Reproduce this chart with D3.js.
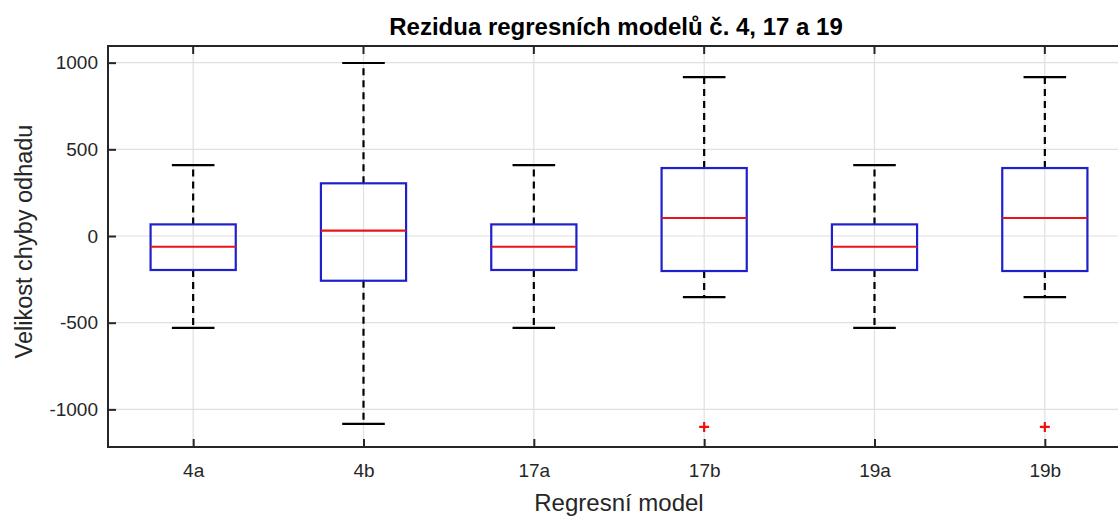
<!DOCTYPE html>
<html>
<head>
<meta charset="utf-8">
<script src="https://cdn.jsdelivr.net/npm/d3@7"></script>
<style>
  body { margin: 0; background: #fff; }
  svg { display: block; font-family: "Liberation Sans", Arial, sans-serif; }
</style>
</head>
<body>
<div id="chart"></div>
<script>
// categories and box statistics
var models = ['4a', '4b', '17a', '17b', '19a', '19b'];
var whiskerHigh = [409, 998, 409, 917, 409, 917];
var q3 = [67, 304, 67, 392, 67, 392];
var medians = [-62, 31, -62, 104, -62, 104];
var q1 = [-196, -258, -196, -202, -196, -202];
var whiskerLow = [-530, -1084, -530, -352, -530, -352];
var outliers = [[], [], [], [-1101], [], [-1101]];
var yTicks = [-1000, -500, 0, 500, 1000];

(function() {
    var width = 1118, height = 516;
    var margin = {top: 46, left: 108, bottom: 69, right: -12};

    var svg = d3.select('#chart').append('svg')
        .attr('width', width)
        .attr('height', height);

    var x = d3.scaleLinear()
        .domain([0.5, models.length + 0.5])
        .range([margin.left, width - margin.right]);

    var y = d3.scaleLinear()
        .domain([-1217, 1096])
        .range([height - margin.bottom, margin.top]);

    var unit = x(2) - x(1);
    var boxes = models.map(function(m, i) {
        return {name: m, i: i + 1, hi: whiskerHigh[i], q3: q3[i], med: medians[i],
                q1: q1[i], lo: whiskerLow[i], out: outliers[i]};
    });

    var plotLeft = x.range()[0], plotRight = x.range()[1];
    var plotTop = y.range()[1], plotBottom = y.range()[0];
    var axisColor = '#262626';

    // grid
    var grid = svg.append('g').attr('stroke', '#e0e0e0').attr('stroke-width', 1.2);
    yTicks.forEach(function(t) {
        grid.append('line').attr('x1', plotLeft).attr('x2', plotRight)
            .attr('y1', y(t)).attr('y2', y(t));
    });
    boxes.forEach(function(d) {
        grid.append('line').attr('x1', x(d.i)).attr('x2', x(d.i))
            .attr('y1', plotTop).attr('y2', plotBottom);
    });

    // boxes
    var g = svg.append('g');
    boxes.forEach(function(d) {
        var cx = x(d.i);
        g.append('line').attr('x1', cx).attr('x2', cx)
            .attr('y1', y(d.q3)).attr('y2', y(d.hi))
            .attr('stroke', '#000').attr('stroke-width', 2.2).attr('stroke-dasharray', '7,5');
        g.append('line').attr('x1', cx).attr('x2', cx)
            .attr('y1', y(d.q1)).attr('y2', y(d.lo))
            .attr('stroke', '#000').attr('stroke-width', 2.2).attr('stroke-dasharray', '7,5');
        [d.hi, d.lo].forEach(function(v) {
            g.append('line').attr('x1', cx - unit * 0.125).attr('x2', cx + unit * 0.125)
                .attr('y1', y(v)).attr('y2', y(v))
                .attr('stroke', '#000').attr('stroke-width', 2.2);
        });
        g.append('rect')
            .attr('x', cx - unit * 0.25).attr('width', unit * 0.5)
            .attr('y', y(d.q3)).attr('height', y(d.q1) - y(d.q3))
            .attr('fill', 'none').attr('stroke', '#1f1fcc').attr('stroke-width', 2.2);
        g.append('line').attr('x1', cx - unit * 0.25).attr('x2', cx + unit * 0.25)
            .attr('y1', y(d.med)).attr('y2', y(d.med))
            .attr('stroke', '#e8141c').attr('stroke-width', 2.2);
        d.out.forEach(function(v) {
            g.append('path')
                .attr('d', 'M' + (cx - 5) + ',' + y(v) + 'H' + (cx + 5) +
                           'M' + cx + ',' + (y(v) - 5) + 'V' + (y(v) + 5))
                .attr('stroke', '#f01010').attr('stroke-width', 2.2);
        });
    });

    // axes frame
    svg.append('rect').attr('x', plotLeft).attr('y', plotTop)
        .attr('width', plotRight - plotLeft).attr('height', plotBottom - plotTop)
        .attr('fill', 'none').attr('stroke', axisColor).attr('stroke-width', 2);

    function styleAxis(s) {
        s.select('.domain').remove();
        s.attr('font-size', 19).attr('font-family', '"Liberation Sans", Arial, sans-serif');
        s.selectAll('line').attr('stroke', axisColor).attr('stroke-width', 2);
        s.selectAll('text').attr('fill', axisColor);
    }

    var yAxis = d3.axisLeft(y).tickValues(yTicks).tickFormat(function(v) { return String(v); })
        .tickSizeInner(-8).tickSizeOuter(0).tickPadding(10);
    svg.append('g').attr('transform', 'translate(' + plotLeft + ',0)').call(yAxis).call(styleAxis);

    var xAxis = d3.axisBottom(x).tickValues(d3.range(1, models.length + 1))
        .tickFormat(function(v) { return models[v - 1]; })
        .tickSizeInner(-8).tickSizeOuter(0).tickPadding(17);
    svg.append('g').attr('transform', 'translate(0,' + plotBottom + ')').call(xAxis).call(styleAxis);

    // top ticks
    svg.append('g').selectAll('line').data(boxes).enter().append('line')
        .attr('x1', function(d) { return x(d.i); }).attr('x2', function(d) { return x(d.i); })
        .attr('y1', plotTop).attr('y2', plotTop + 8)
        .attr('stroke', axisColor).attr('stroke-width', 2);

    // labels
    var mid = (plotLeft + plotRight) / 2;
    svg.append('text').attr('x', mid - 3).attr('y', 35)
        .attr('text-anchor', 'middle').attr('font-size', 24).attr('font-weight', 'bold')
        .attr('fill', '#000')
        .text('Rezidua regresních modelů č. 4, 17 a 19');

    svg.append('text').attr('x', mid).attr('y', 511)
        .attr('text-anchor', 'middle').attr('font-size', 24).attr('fill', axisColor)
        .text('Regresní model');

    svg.append('text')
        .attr('transform', 'translate(32,' + ((plotTop + plotBottom) / 2 - 5) + ') rotate(-90)')
        .attr('text-anchor', 'middle').attr('font-size', 23.5).attr('fill', axisColor)
        .text('Velikost chyby odhadu');
})();
</script>
</body>
</html>
